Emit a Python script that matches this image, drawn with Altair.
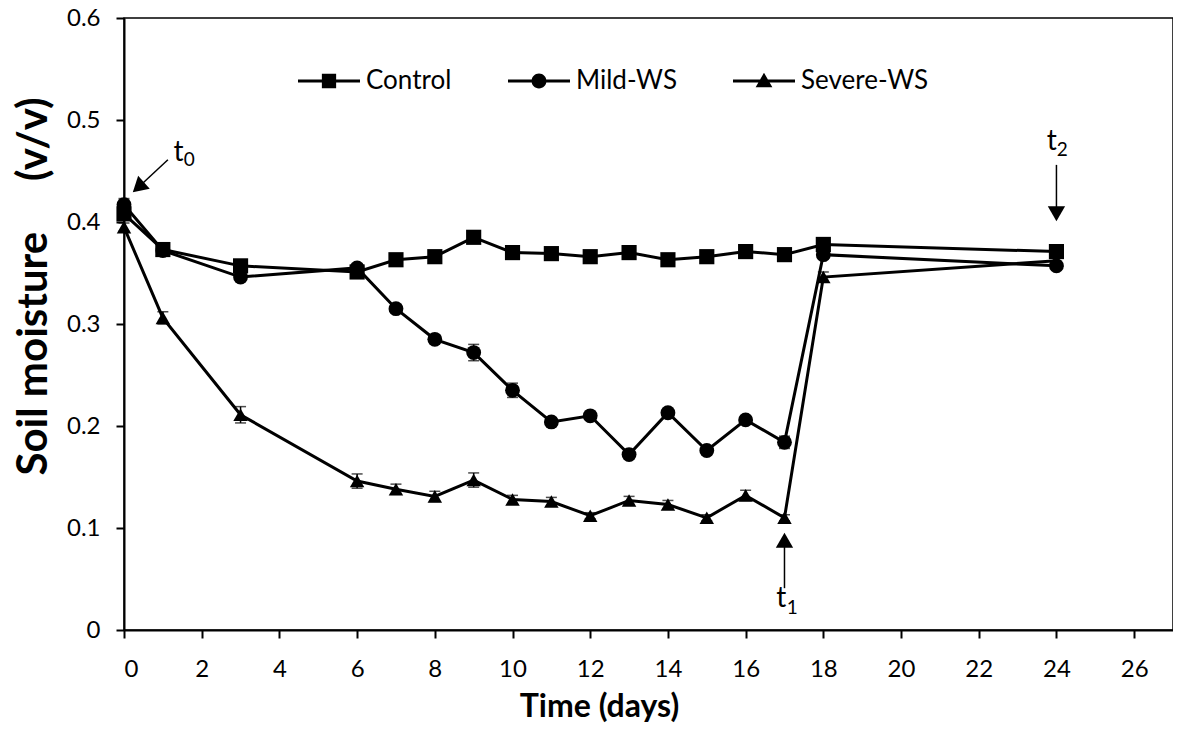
import altair as alt
import pandas as pd

# ---------------- data ----------------
days = [0, 1, 3, 6, 7, 8, 9, 10, 11, 12, 13, 14, 15, 16, 17, 18, 24]
series_names = ["Control", "Mild-WS", "Severe-WS"]

control = [0.408, 0.373, 0.357, 0.351, 0.363, 0.366, 0.385, 0.370, 0.369, 0.366, 0.370, 0.363, 0.366, 0.371, 0.368, 0.378, 0.371]
control_err = [0.005, 0.004, 0.005, 0.003, 0.003, 0.003, 0.004, 0.003, 0.003, 0.003, 0.003, 0.003, 0.003, 0.003, 0.003, 0.004, 0.003]

mild = [0.417, 0.372, 0.346, 0.355, 0.315, 0.285, 0.272, 0.235, 0.204, 0.210, 0.172, 0.213, 0.176, 0.206, 0.184, 0.368, 0.357]
mild_err = [0.006, 0.004, 0.004, 0.004, 0.004, 0.004, 0.008, 0.007, 0.004, 0.003, 0.004, 0.003, 0.004, 0.003, 0.006, 0.004, 0.003]

severe = [0.395, 0.306, 0.211, 0.146, 0.138, 0.131, 0.147, 0.128, 0.126, 0.112, 0.127, 0.123, 0.110, 0.132, 0.110, 0.346, 0.362]
severe_err = [0.004, 0.006, 0.008, 0.007, 0.005, 0.005, 0.007, 0.004, 0.004, 0.003, 0.004, 0.004, 0.003, 0.005, 0.003, 0.005, 0.003]

x_ticks = [0, 2, 4, 6, 8, 10, 12, 14, 16, 18, 20, 22, 24, 26]
y_ticks = [0, 0.1, 0.2, 0.3, 0.4, 0.5, 0.6]

# annotation arrows (t0, t1, t2) in data units
arrow_x = [1.13, 17.0, 24.0]
arrow_y = [0.461, 0.041, 0.456]
arrow_x2 = [0.37, 17.0, 24.0]
arrow_y2 = [0.434, 0.088, 0.408]
arrow_angle = [228, 0, 180]

label_main = ["t", "t", "t"]
label_main_x = [1.40, 16.92, 23.88]
label_main_y = [0.468, 0.030, 0.478]
label_sub = ["0", "1", "2"]
label_sub_x = [1.68, 17.2, 24.15]
label_sub_y = [0.461, 0.022, 0.471]

FONT = "Lato"

rows = []
for name, vals, errs in zip(series_names, [control, mild, severe], [control_err, mild_err, severe_err]):
    for d, v, e in zip(days, vals, errs):
        rows.append({"series": name, "day": d, "value": v, "lo": v - e, "hi": v + e})
df = pd.DataFrame(rows)

arrows = pd.DataFrame({"x": arrow_x, "y": arrow_y, "x2": arrow_x2, "y2": arrow_y2, "angle": arrow_angle})
labels_main = pd.DataFrame({"t": label_main, "x": label_main_x, "y": label_main_y})
labels_sub = pd.DataFrame({"t": label_sub, "x": label_sub_x, "y": label_sub_y})

xscale = alt.Scale(domain=[0, 27], nice=False)
yscale = alt.Scale(domain=[0, 0.6], nice=False)

x_axis = alt.Axis(
    values=x_ticks, title="Time (days)", titleFont=FONT, titleFontSize=32, titleFontWeight="bold",
    titleX=475, titleY=86, titleBaseline="alphabetic", titleAlign="center",
    labelFont=FONT, labelFontSize=24, labelPadding=19, tickSize=8, labelColor="black", titleColor="black",
)
y_axis = alt.Axis(
    values=y_ticks, title="Soil moisture \u00a0\u00a0\u00a0\u00a0(v/v)", titleFont=FONT, titleFontSize=42,
    titleFontWeight="bold",
    titleX=-91, titleY=268, titleAngle=-90, titleAlign="center", titleBaseline="middle",
    labelFont=FONT, labelFontSize=24, labelPadding=16, tickSize=8, labelColor="black", titleColor="black",
    labelExpr="datum.value == 0 ? '0' : format(datum.value, '.1f')",
)

X = alt.X("day:Q", scale=xscale, axis=x_axis)
Y = alt.Y("value:Q", scale=yscale, axis=y_axis)

base = alt.Chart(df)

err_rule = base.mark_rule(color="black", strokeWidth=1.5).encode(
    x=X, y=alt.Y("lo:Q", scale=yscale), y2="hi:Q"
)
cap_hi = base.mark_tick(color="black", orient="horizontal", size=11, thickness=1.5).encode(
    x=X, y=alt.Y("hi:Q", scale=yscale)
)
cap_lo = base.mark_tick(color="black", orient="horizontal", size=11, thickness=1.5).encode(
    x=X, y=alt.Y("lo:Q", scale=yscale)
)

lines = base.mark_line(color="black", strokeWidth=3).encode(
    x=X, y=Y, detail="series:N", order="day:Q"
)

points = base.mark_point(filled=True, color="black", opacity=1, strokeWidth=0).encode(
    x=X, y=Y,
    shape=alt.Shape("series:N", scale=alt.Scale(domain=series_names, range=["square", "circle", "triangle-up"]), legend=None),
    size=alt.Size("series:N", scale=alt.Scale(domain=series_names, range=[230, 210, 250]), legend=None),
)

# legend symbols: line + marker
p_sq = "M-1,-0.05H1V0.05H-1Z M-0.23,-0.23H0.23V0.23H-0.23Z"
p_ci = "M-1,-0.05H1V0.05H-1Z M-0.24,0A0.24,0.24,0,1,1,0.24,0A0.24,0.24,0,1,1,-0.24,0Z"
p_tr = "M-1,-0.05H1V0.05H-1Z M0,-0.27L0.27,0.2L-0.27,0.2Z"

legend_layer = base.transform_filter("false").mark_point(
    filled=True, color="black", opacity=1, strokeWidth=0, size=3844
).encode(
    x=X, y=Y,
    shape=alt.Shape(
        "series:N",
        scale=alt.Scale(domain=series_names, range=[p_sq, p_ci, p_tr]),
        legend=alt.Legend(
            title=None, orient="none", direction="horizontal", legendX=174, legendY=32,
            labelFont=FONT, labelFontSize=26, labelColor="black", labelOffset=6,
            columnPadding=56, symbolSize=3844, symbolFillColor="black", symbolStrokeWidth=0,
            symbolOpacity=1,
        ),
    ),
)

arrow_rules = alt.Chart(arrows).mark_rule(color="black", strokeWidth=1.5).encode(
    x=alt.X("x:Q", scale=xscale), y=alt.Y("y:Q", scale=yscale), x2="x2:Q", y2="y2:Q"
)
arrow_heads = alt.Chart(arrows).mark_point(shape="triangle-up", filled=True, color="black", opacity=1, size=300, strokeWidth=0).encode(
    x=alt.X("x2:Q", scale=xscale), y=alt.Y("y2:Q", scale=yscale), angle=alt.Angle("angle:Q", scale=None)
)
t_main = alt.Chart(labels_main).mark_text(font=FONT, fontSize=28, color="black", baseline="middle", align="center").encode(
    x=alt.X("x:Q", scale=xscale), y=alt.Y("y:Q", scale=yscale), text="t:N"
)
t_sub = alt.Chart(labels_sub).mark_text(font=FONT, fontSize=19, color="black", baseline="middle", align="center").encode(
    x=alt.X("x:Q", scale=xscale), y=alt.Y("y:Q", scale=yscale), text="t:N"
)

chart = alt.layer(
    err_rule, cap_hi, cap_lo, lines, points, legend_layer, arrow_rules, arrow_heads, t_main, t_sub
).resolve_scale(
    shape="independent", size="independent"
).properties(
    width=1049, height=612,
    autosize=alt.AutoSizeParams(type="none"),
    padding={"left": 116, "top": 10, "right": 0, "bottom": 93},
    background="white",
).configure_view(
    stroke="black", strokeWidth=1.5
).configure_axis(
    grid=False, domainColor="black", domainWidth=2, tickColor="black", tickWidth=2
)

chart.save("out.html", embed_options={"renderer": "svg", "actions": False})
